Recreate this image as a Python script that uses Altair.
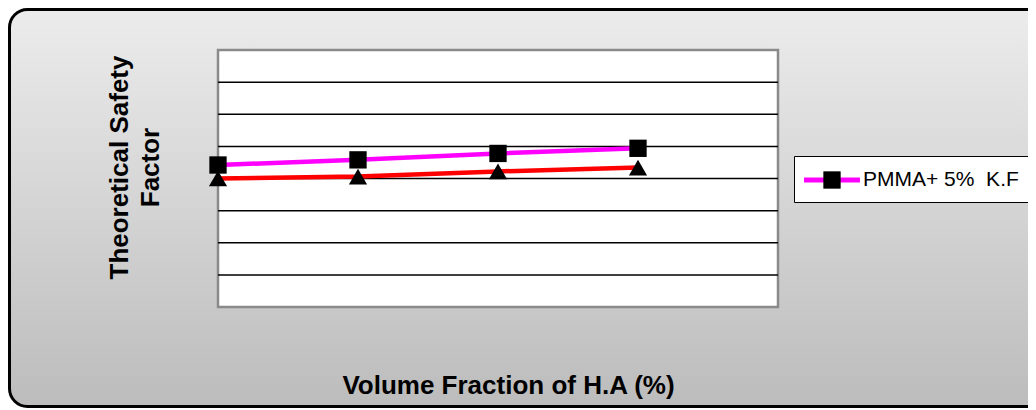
import altair as alt
import pandas as pd

# ---- data ----
x_vals = [0, 5, 10, 15]                 # volume fraction of H.A (%)
pmma_kf = [2.21, 2.29, 2.39, 2.47]      # magenta series (squares)
pmma_base = [2.00, 2.03, 2.11, 2.17]    # red series (triangles)
y_grid = [0.5, 1.0, 1.5, 2.0, 2.5, 3.0, 3.5]
series_name = "PMMA+ 5%\u00a0 K.F"
marker_name = "PMMA+ 5% K.F marker"
x_title = "Volume Fraction of H.A (%)"
y_title = ["Theoretical Safety", "Factor"]

# ---- layout ----
W, H = 560, 257
PL, PT = 210, 42
SVG_W, SVG_H = 1020, 400
PR = SVG_W - PL - W
PB = SVG_H - PT - H

df_kf = pd.DataFrame({"x": x_vals, "y": pmma_kf, "series": series_name, "marker": marker_name})
df_base = pd.DataFrame({"x": x_vals, "y": pmma_base})
df_grid = pd.DataFrame({"y": y_grid})
one = pd.DataFrame({"k": [0]})

FONT = "Liberation Sans"

xenc = alt.X("x:Q", scale=alt.Scale(domain=[0, 20], nice=False, zero=False),
             axis=alt.Axis(title=x_title, labels=False, ticks=False, domain=False, grid=False,
                           titleFont=FONT, titleFontSize=26, titleFontWeight="bold", titleColor="black",
                           titleX=290, titleY=78, titleBaseline="middle", titleAlign="center", zindex=1))
yenc = alt.Y("y:Q", scale=alt.Scale(domain=[0, 4], nice=False, zero=False),
             axis=alt.Axis(title=y_title, labels=False, ticks=False, domain=False, grid=False,
                           titleFont=FONT, titleFontSize=26, titleFontWeight="bold", titleColor="black",
                           titleX=-99, titleY=117, titleBaseline="middle", titleAlign="center",
                           titleAngle=270, titleLineHeight=31, zindex=1))

bg = alt.Chart(one).mark_rect(
    fill=alt.Gradient(gradient="linear",
                      stops=[alt.GradientStop(color="#ececec", offset=0),
                             alt.GradientStop(color="#bcbcbc", offset=1)],
                      x1=0, x2=0, y1=0, y2=1),
    stroke="black", strokeWidth=3, cornerRadius=18, clip=False
).encode(x=alt.value(-PL + 1.5), x2=alt.value(W + PR + 30),
         y=alt.value(-PT + 1.5), y2=alt.value(H + PB - 1.5))

plot_bg = alt.Chart(one).mark_rect(fill="white", stroke="#8a8a8a", strokeWidth=2.5).encode(
    x=alt.value(0), x2=alt.value(W), y=alt.value(0), y2=alt.value(H))

grid = alt.Chart(df_grid).mark_rule(color="black", strokeWidth=1.5).encode(y=yenc)

base_line = alt.Chart(df_base).mark_line(color="#ff0000", strokeWidth=4.5).encode(x=xenc, y=yenc)
base_pts = alt.Chart(df_base).mark_point(shape="triangle-up", filled=True, color="black",
                                         size=330, opacity=1).encode(x=xenc, y=yenc)

kf_line = alt.Chart(df_kf).mark_line(strokeWidth=4.5).encode(
    x=xenc, y=yenc,
    color=alt.Color("series:N", scale=alt.Scale(domain=[series_name], range=["#ff00ff"]),
                    legend=alt.Legend(title=None, orient="none", legendX=576, legendY=106,
                                      symbolType="M-1.5,0H4.5", symbolSize=348, symbolStrokeWidth=5,
                                      labelFont=FONT, labelFontSize=21, labelColor="black",
                                      labelOffset=33, fillColor="white", strokeColor="black",
                                      padding=12, zindex=1)))
kf_pts = alt.Chart(df_kf).mark_point(filled=True, color="black", size=300, opacity=1).encode(
    x=xenc, y=yenc,
    shape=alt.Shape("marker:N", scale=alt.Scale(domain=[marker_name], range=["square"]),
                    legend=alt.Legend(title=None, orient="none", legendX=605, legendY=121,
                                      symbolSize=300, symbolFillColor="black",
                                      symbolStrokeColor="black", symbolStrokeWidth=0,
                                      labelExpr="''", padding=0, zindex=2)))

chart = alt.layer(bg, plot_bg, grid, base_line, base_pts, kf_line, kf_pts).properties(
    width=W, height=H,
    padding={"left": PL, "top": PT, "right": PR, "bottom": PB},
    autosize=alt.AutoSizeParams(type="none"),
).configure_view(stroke=None)

chart.save("out.html", embed_options={"renderer": "svg", "actions": False})
